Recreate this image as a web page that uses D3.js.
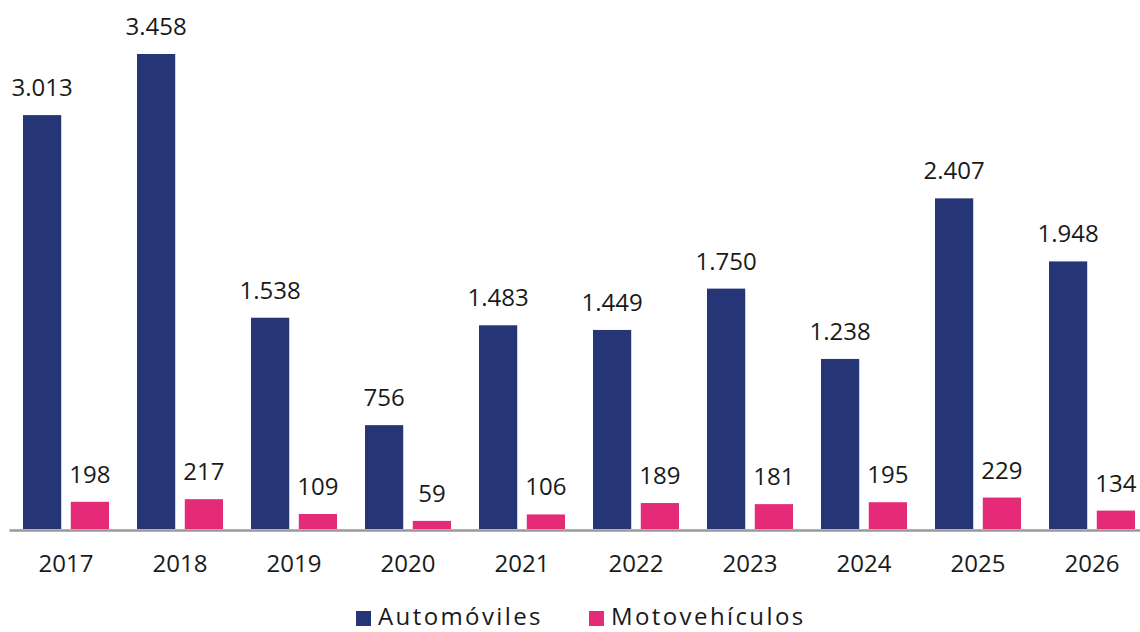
<!DOCTYPE html>
<meta charset="utf-8">
<style>
body { margin: 0; background: #fff; }
text { font-family: "Open Sans", sans-serif; fill: #1a1a1a; }
</style>
<svg width="1140" height="632"></svg>
<script src="https://cdn.jsdelivr.net/npm/d3@7"></script>
<script>

var years = ["2017", "2018", "2019", "2020", "2021", "2022", "2023", "2024", "2025", "2026"];
var autos = [3013, 3458, 1538, 756, 1483, 1449, 1750, 1238, 2407, 1948];
var motos = [198, 217, 109, 59, 106, 189, 181, 195, 229, 134];
var seriesNames = ["Automóviles", "Motovehículos"];
var colors = ["#253575", "#e52b78"];

var svg = d3.select("svg");
var baseY = 529;

var x = d3.scaleBand().domain(years).range([9, 1149]);
var xi = d3.scaleBand().domain([0, 1]).range([14, 100]).paddingInner(0.2);
var y = d3.scaleLinear().domain([0, 3458]).range([baseY, 54]);

var fmt = function(v) { return d3.format(",")(v).replace(/,/g, "."); };

var rows = years.map(function(yr, i) { return {year: yr, vals: [autos[i], motos[i]]}; });

var g = svg.append("g").selectAll("g")
    .data(rows)
  .enter().append("g")
    .attr("transform", function(d) { return "translate(" + x(d.year) + ",0)"; });

g.selectAll("rect")
    .data(function(d) { return d.vals; })
  .enter().append("rect")
    .attr("x", function(d, j) { return xi(j); })
    .attr("width", xi.bandwidth())
    .attr("y", function(d) { return y(d); })
    .attr("height", function(d) { return baseY - y(d); })
    .attr("fill", function(d, j) { return colors[j]; });

g.selectAll("text.val")
    .data(function(d) { return d.vals; })
  .enter().append("text")
    .attr("class", "val")
    .attr("x", function(d, j) { return xi(j) + xi.bandwidth() / 2; })
    .attr("y", function(d) { return y(d) - 19; })
    .attr("text-anchor", "middle")
    .style("font-size", "24px")
    .text(fmt);

// axis
var axis = svg.append("g")
    .attr("transform", "translate(0," + (baseY + 1) + ")")
    .call(d3.axisBottom(x).tickSize(0).tickPadding(25));
axis.select(".domain").attr("stroke", "#999").attr("stroke-width", 2.5);
axis.selectAll("text").style("font-size", "24px").style("font-family", "'Open Sans', sans-serif").attr("fill", "#1a1a1a");

// legend
var legX = [356, 589];
var leg = svg.append("g").selectAll("g")
    .data(seriesNames)
  .enter().append("g")
    .attr("transform", function(d, i) { return "translate(" + legX[i] + ",611)"; });
leg.append("rect").attr("width", 15).attr("height", 15)
    .attr("fill", function(d, i) { return colors[i]; });
leg.append("text").attr("x", 22).attr("y", 14)
    .style("font-size", "24px")
    .style("letter-spacing", "2.4px")
    .text(function(d) { return d; });

</script>
